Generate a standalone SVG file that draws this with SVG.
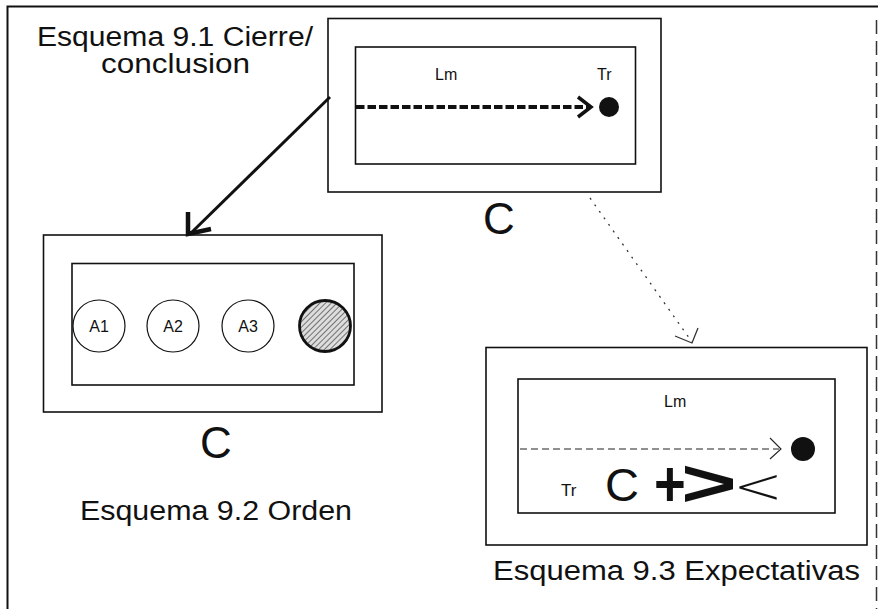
<svg xmlns="http://www.w3.org/2000/svg" width="878" height="609" viewBox="0 0 878 609">
<style>
text{font-family:"Liberation Sans",Arial,sans-serif;fill:#111}
.box{fill:none;stroke:#111;stroke-width:1.6}
.title{font-size:27px}
.big{font-size:44px}
.lbl{font-size:16px}
.circ{fill:#fff;stroke:#111;stroke-width:1.2}
</style>
<defs>
<pattern id="hatch" patternUnits="userSpaceOnUse" width="4" height="4" patternTransform="rotate(45)">
<rect width="4" height="4" fill="#ddd"/>
<line x1="0" y1="0" x2="0" y2="4" stroke="#555" stroke-width="1.6"/>
</pattern>
</defs>
<rect width="878" height="609" fill="#fff"/>
<g id="frame">
<path d="M7.5,609 V6.5 H878" fill="none" stroke="#111" stroke-width="2"/>
<line x1="876.5" y1="20" x2="876.5" y2="609" stroke="#333" stroke-width="1.5" stroke-dasharray="14 7"/>
</g>
<g id="title1">
<text class="title" x="37" y="46" textLength="276" lengthAdjust="spacingAndGlyphs">Esquema 9.1 Cierre/</text>
<text class="title" x="101" y="73" textLength="149" lengthAdjust="spacingAndGlyphs">conclusion</text>
</g>
<g id="node1">
<rect class="box" x="328" y="18.5" width="333" height="173.5"/>
<rect class="box" x="355.5" y="47" width="280" height="117"/>
<text class="lbl" x="435" y="80">Lm</text>
<text class="lbl" x="597" y="80">Tr</text>
<line x1="356" y1="107" x2="588" y2="107" stroke="#111" stroke-width="4" stroke-dasharray="8.5 3"/>
<polyline points="578,97 591,107 578,117" fill="none" stroke="#111" stroke-width="3.5"/>
<circle cx="609" cy="107" r="10" fill="#111"/>
<text class="big" x="483" y="234">C</text>
</g>
<g id="node2">
<rect class="box" x="43.5" y="235" width="338.5" height="177"/>
<rect class="box" x="72" y="263.5" width="282" height="121.5"/>
<circle class="circ" cx="99" cy="326" r="26"/>
<text class="lbl" x="99" y="332" text-anchor="middle">A1</text>
<circle class="circ" cx="173" cy="326" r="26"/>
<text class="lbl" x="173" y="332" text-anchor="middle">A2</text>
<circle class="circ" cx="248" cy="326" r="26"/>
<text class="lbl" x="248" y="332" text-anchor="middle">A3</text>
<circle cx="325" cy="326" r="25.5" fill="url(#hatch)" stroke="#111" stroke-width="2.8"/>
<text class="big" x="200" y="458">C</text>
<text class="title" x="80" y="520" textLength="272" lengthAdjust="spacingAndGlyphs">Esquema 9.2 Orden</text>
</g>
<g id="node3">
<rect class="box" x="486" y="347.5" width="381" height="197.5"/>
<rect class="box" x="518" y="379" width="317" height="134"/>
<text class="lbl" x="664" y="407">Lm</text>
<line x1="520" y1="449" x2="779" y2="449" stroke="#222" stroke-width="1.2" stroke-dasharray="7 4"/>
<polyline points="770,438 781,449 770,459" fill="none" stroke="#222" stroke-width="1.1"/>
<circle cx="803" cy="449" r="12" fill="#111"/>
<text x="561" y="496" style="font-size:17px">Tr</text>
<text x="605" y="501" style="font-size:47px">C</text>
<text x="0" y="0" style="font-size:64px;font-weight:bold" text-anchor="middle" transform="translate(670,506) scale(0.85,1)">+</text>
<text x="0" y="0" style="font-size:66px;font-weight:bold" text-anchor="middle" transform="translate(709,506) scale(1.45,1)">&gt;</text>
<text x="733" y="503" style="font-family:'DejaVu Sans',sans-serif;font-size:50px;font-weight:200" textLength="50" lengthAdjust="spacingAndGlyphs">&lt;</text>
<text class="title" x="493" y="580" textLength="367" lengthAdjust="spacingAndGlyphs">Esquema 9.3 Expectativas</text>
</g>
<g id="connectors">
<line x1="330" y1="97" x2="191" y2="233" stroke="#111" stroke-width="3"/>
<polyline points="188,212 188,234 211,229" fill="none" stroke="#111" stroke-width="4.5"/>
<line x1="590" y1="198" x2="692" y2="342" stroke="#333" stroke-width="1.3" stroke-dasharray="2 6"/>
<polyline points="675,336 692,343 698,328" fill="none" stroke="#333" stroke-width="1.3"/>
</g>
</svg>
